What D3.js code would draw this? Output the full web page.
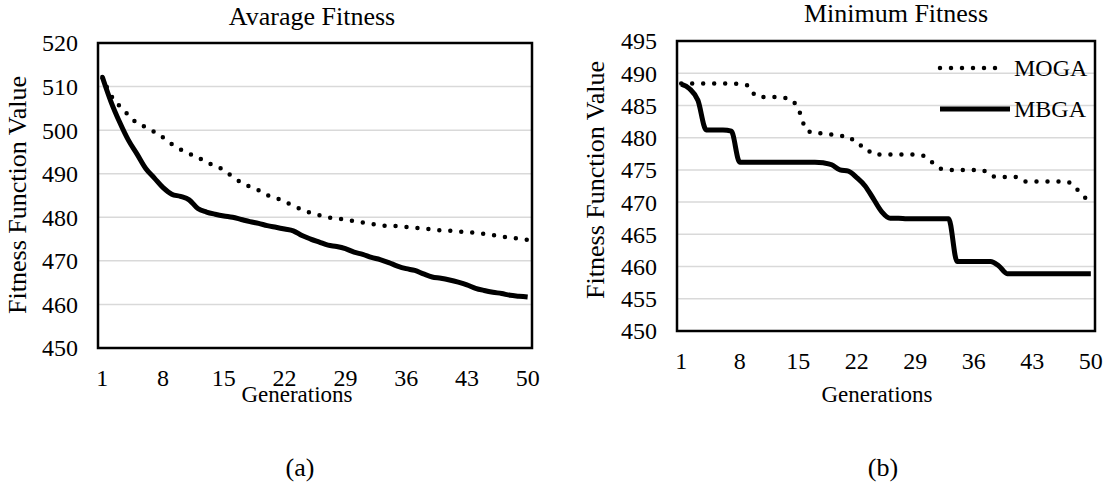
<!DOCTYPE html>
<html>
<head>
<meta charset="utf-8">
<script src="https://cdn.jsdelivr.net/npm/d3@7"></script>
<style>
  body { margin: 0; background: #fff; }
  text { font-family: "Liberation Serif", "Times New Roman", serif; fill: #000; }
</style>
</head>
<body>
<svg id="chart" width="1112" height="489"></svg>
<script>
// categories (generations 1..50) and tick labels
var generations = d3.range(1, 51);
var xTickLabels = [1, 8, 15, 22, 29, 36, 43, 50];

// (a) average fitness
var avgYTicks = [450, 460, 470, 480, 490, 500, 510, 520];
var avgMOGA = [512.2, 508.0, 505.5, 503.5, 501.6, 500.7, 499.6, 498.3, 496.8, 495.6,
  494.6, 493.8, 492.5, 491.9, 490.8, 489.3, 488.0, 487.0, 486.2, 485.1,
  484.4, 483.6, 482.6, 481.8, 481.0, 480.5, 480.0, 479.7, 479.5, 479.1,
  478.8, 478.5, 478.2, 478.0, 478.0, 477.8, 477.6, 477.5, 477.2, 477.0,
  476.9, 476.7, 476.6, 476.4, 476.2, 475.9, 475.6, 475.3, 475.1, 474.8];
var avgMBGA = [512.2, 506.5, 501.8, 497.7, 494.5, 491.2, 489.0, 486.8, 485.3, 484.8,
  484.0, 482.0, 481.2, 480.7, 480.3, 480.0, 479.5, 479.0, 478.6, 478.1,
  477.7, 477.3, 476.9, 475.8, 475.0, 474.3, 473.6, 473.3, 472.8, 472.0,
  471.5, 470.8, 470.3, 469.6, 468.8, 468.2, 467.8, 467.0, 466.3, 466.0,
  465.6, 465.1, 464.5, 463.7, 463.2, 462.8, 462.5, 462.1, 461.9, 461.7];

// (b) minimum fitness
var minYTicks = [450, 455, 460, 465, 470, 475, 480, 485, 490, 495];
var minMOGA = [488.4, 488.4, 488.4, 488.4, 488.4, 488.4, 488.4, 488.3, 488.1, 486.4,
  486.3, 486.3, 486.2, 486.0, 484.5, 481.2, 480.7, 480.7, 480.5, 480.3,
  480.2, 479.0, 478.6, 477.4, 477.4, 477.4, 477.4, 477.4, 477.4, 477.2,
  476.2, 475.2, 475.0, 475.0, 475.0, 475.0, 475.0, 474.1, 473.9, 473.9,
  473.9, 473.2, 473.2, 473.2, 473.2, 473.2, 473.2, 472.5, 471.0, 470.2];
var minMBGA = [488.3, 487.6, 485.8, 481.2, 481.2, 481.2, 481.0, 476.2, 476.2, 476.2,
  476.2, 476.2, 476.2, 476.2, 476.2, 476.2, 476.2, 476.1, 475.8, 475.0,
  474.8, 473.8, 472.5, 470.5, 468.5, 467.5, 467.5, 467.4, 467.4, 467.4,
  467.4, 467.4, 467.4, 460.8, 460.8, 460.8, 460.8, 460.8, 460.1, 458.9,
  458.9, 458.9, 458.9, 458.9, 458.9, 458.9, 458.9, 458.9, 458.9, 458.9];

var svg = d3.select('#chart');

function drawPanel(opts) {
	var g = svg.append('g');
	var x = d3.scaleBand().domain(generations).range([opts.left, opts.right]);
	var y = d3.scaleLinear().domain([opts.yTicks[0], opts.yTicks[opts.yTicks.length - 1]])
		.range([opts.bottom, opts.top]);
	var cx = function(i) { return x(generations[i]) + x.bandwidth() / 2; };

	// gridlines
	g.selectAll('line.grid').data(opts.yTicks.slice(1, -1)).enter().append('line')
		.attr('x1', opts.left).attr('x2', opts.right)
		.attr('y1', function(d) { return y(d); }).attr('y2', function(d) { return y(d); })
		.attr('stroke', '#d9d9d9').attr('stroke-width', 1.5);

	// y tick labels
	g.selectAll('text.ytick').data(opts.yTicks).enter().append('text')
		.attr('x', opts.left - 20).attr('y', function(d) { return y(d); })
		.attr('dy', '0.35em').attr('text-anchor', 'end')
		.style('font-size', '24px').text(function(d) { return d; });

	// x tick labels
	g.selectAll('text.xtick').data(xTickLabels).enter().append('text')
		.attr('x', function(d) { return x(d) + x.bandwidth() / 2; })
		.attr('y', opts.xTickY).attr('text-anchor', 'middle')
		.style('font-size', '24px').text(function(d) { return d; });

	var line = d3.line().curve(d3.curveMonotoneX)
		.x(function(d, i) { return cx(i); })
		.y(function(d) { return y(d); });

	g.append('path').datum(opts.moga).attr('d', line)
		.attr('fill', 'none').attr('stroke', '#000').attr('stroke-width', 4.5)
		.attr('stroke-linecap', 'round').attr('stroke-dasharray', '0 11');
	g.append('path').datum(opts.mbga).attr('d', line)
		.attr('fill', 'none').attr('stroke', '#000').attr('stroke-width', 5)
		.attr('stroke-linejoin', 'round');

	// frame
	g.append('rect').attr('x', opts.left).attr('y', opts.top)
		.attr('width', opts.right - opts.left).attr('height', opts.bottom - opts.top)
		.attr('fill', 'none').attr('stroke', '#000').attr('stroke-width', 2.5);

	// titles
	g.append('text').attr('x', opts.titleX).attr('y', opts.titleY).attr('text-anchor', 'middle')
		.style('font-size', '26px').text(opts.title);
	g.append('text').attr('x', opts.xLabelX).attr('y', 402).attr('text-anchor', 'middle')
		.style('font-size', '23px').text('Generations');
	g.append('text').attr('transform', 'translate(' + opts.yLabelX + ',' + opts.yLabelY + ') rotate(-90)')
		.attr('text-anchor', 'middle').attr('dy', '0.35em')
		.style('font-size', '26px').text('Fitness Function Value');
	g.append('text').attr('x', opts.capX).attr('y', 476).attr('text-anchor', 'middle')
		.style('font-size', '26px').text(opts.caption);
	return g;
}

drawPanel({
	left: 98, right: 532, top: 43, bottom: 348,
	yTicks: avgYTicks, moga: avgMOGA, mbga: avgMBGA,
	xTickY: 386, title: 'Avarage Fitness', titleX: 312, titleY: 25,
	xLabelX: 297, yLabelX: 17, yLabelY: 195, caption: '(a)', capX: 300
});

var gb = drawPanel({
	left: 677, right: 1095, top: 41, bottom: 331,
	yTicks: minYTicks, moga: minMOGA, mbga: minMBGA,
	xTickY: 369, title: 'Minimum Fitness', titleX: 896, titleY: 22,
	xLabelX: 877, yLabelX: 595, yLabelY: 180, caption: '(b)', capX: 883
});

// legend for (b)
var legendItems = [
	{ name: 'MOGA', y: 68, x2: 998, dash: '0 11', w: 4.5 },
	{ name: 'MBGA', y: 109, x2: 1010, dash: null, w: 5 }
];
legendItems.forEach(function(d) {
	gb.append('line').attr('x1', 940).attr('x2', d.x2).attr('y1', d.y).attr('y2', d.y)
		.attr('stroke', '#000').attr('stroke-width', d.w)
		.attr('stroke-linecap', d.dash ? 'round' : 'butt')
		.attr('stroke-dasharray', d.dash);
	gb.append('text').attr('x', 1014).attr('y', d.y).attr('dy', '0.35em')
		.style('font-size', '24px').text(d.name);
});
</script>
</body>
</html>
